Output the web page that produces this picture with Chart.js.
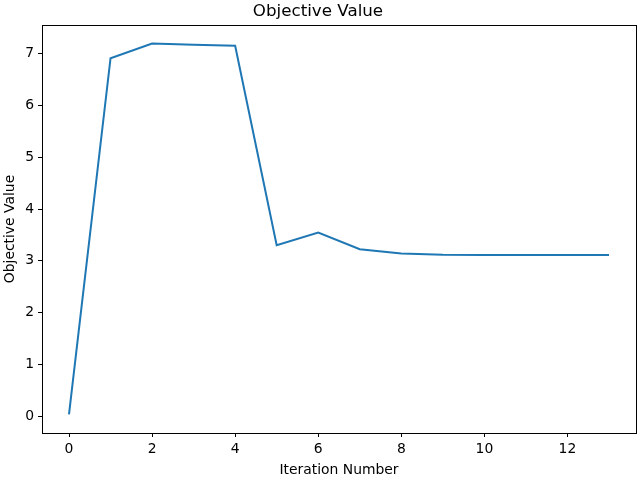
<!DOCTYPE html>
<html>
<head>
<meta charset="utf-8">
<script src="https://cdn.jsdelivr.net/npm/chart.js@4/dist/chart.umd.min.js"></script>
<style>
  html, body { margin: 0; padding: 0; background: #fff; }
  #wrap { width: 640px; height: 480px; }
</style>
</head>
<body>
<div id="wrap"><canvas id="chart" width="640" height="480"></canvas></div>
<script>
// iteration numbers and objective values
var iterations = [0, 1, 2, 3, 4, 5, 6, 7, 8, 9, 10, 11, 12, 13];
var objective = [0.03, 6.915, 7.198, 7.175, 7.154, 3.30, 3.545, 3.225, 3.14, 3.115, 3.11, 3.11, 3.11, 3.11];

var font = 'DejaVu Sans';

// frame round the plot area, like matplotlib spines
var framePlugin = {
    id: 'frame',
    afterDraw: function (chart) {
        var a = chart.chartArea;
        var ctx = chart.ctx;
        ctx.save();
        ctx.strokeStyle = '#000';
        ctx.lineWidth = 1;
        ctx.strokeRect(Math.round(a.left) + 0.5, Math.round(a.top) + 0.5,
            Math.round(a.right - a.left), Math.round(a.bottom - a.top));
        ctx.restore();
    }
};

var points = iterations.map(function (x, i) {
    return { x: x, y: objective[i] };
});

var ctx = document.getElementById('chart').getContext('2d');
var chart = new Chart(ctx, {
    type: 'line',
    data: {
        datasets: [{
            data: points,
            borderColor: '#1f77b4',
            borderWidth: 2,
            pointRadius: 0,
            fill: false,
            tension: 0
        }]
    },
    options: {
        responsive: false,
        animation: false,
        layout: { padding: { left: 0, right: 4, top: 0, bottom: 0 } },
        plugins: {
            legend: { display: false },
            tooltip: { enabled: false },
            title: {
                display: true,
                text: 'Objective Value',
                color: '#000',
                font: { family: font, size: 16.7, weight: 'normal' },
                padding: { top: 2, bottom: 3 }
            }
        },
        scales: {
            x: {
                type: 'linear',
                min: -0.65,
                max: 13.65,
                afterFit: function (s) { s.height = 47; },
                grid: { drawOnChartArea: false, drawTicks: true, tickLength: 4, color: '#000' },
                border: { display: false },
                ticks: {
                    stepSize: 2,
                    includeBounds: false,
                    color: '#000',
                    padding: 4,
                    maxRotation: 0,
                    font: { family: font, size: 13.9 }
                },
                title: {
                    display: true,
                    text: 'Iteration Number',
                    color: '#000',
                    font: { family: font, size: 13.9 },
                    padding: { top: 0, bottom: 1 }
                }
            },
            y: {
                min: -0.328,
                max: 7.556,
                afterFit: function (s) { s.width = 42; },
                grid: { drawOnChartArea: false, drawTicks: true, tickLength: 4, color: '#000' },
                border: { display: false },
                ticks: {
                    stepSize: 1,
                    includeBounds: false,
                    color: '#000',
                    padding: 4,
                    font: { family: font, size: 13.9 }
                },
                title: {
                    display: true,
                    text: 'Objective Value',
                    color: '#000',
                    font: { family: font, size: 13.9 },
                    padding: { top: 2, bottom: 0 }
                }
            }
        }
    },
    plugins: [framePlugin]
});
</script>
</body>
</html>
